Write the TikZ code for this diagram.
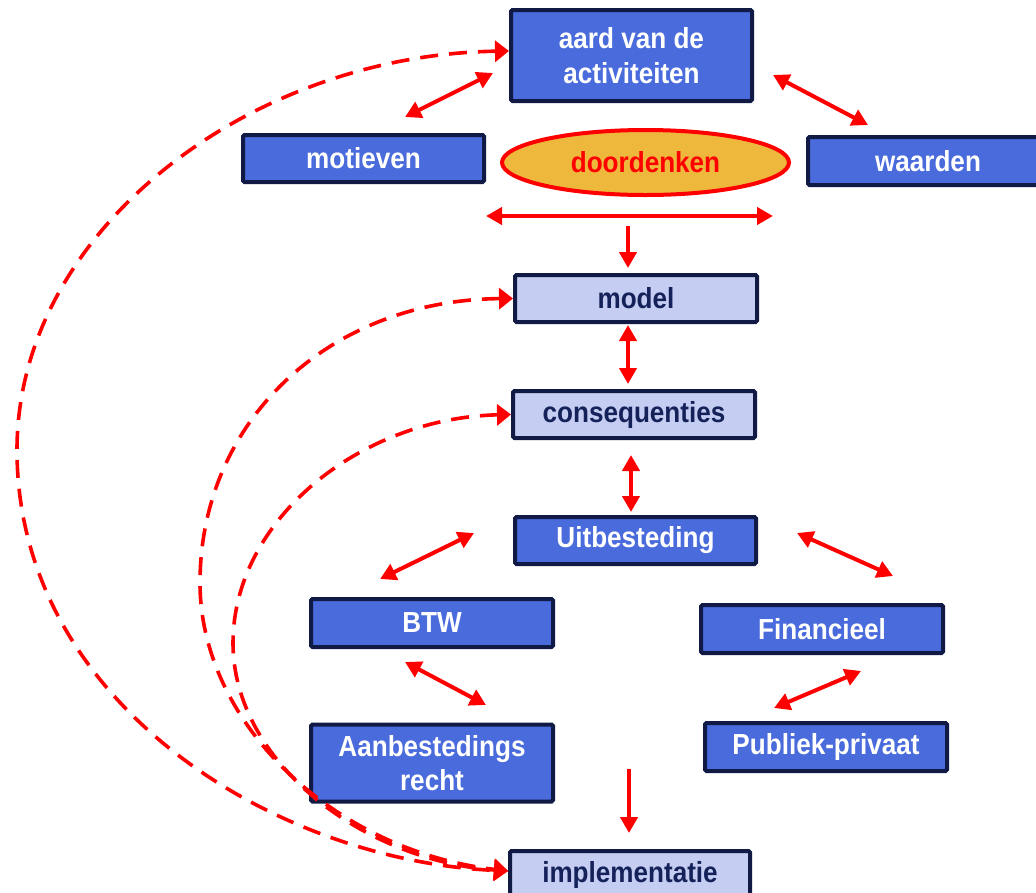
\documentclass[tikz,border=0pt]{standalone}
\usepackage{fontspec}
\setmainfont{Liberation Sans}[FakeStretch=0.9]
\usetikzlibrary{arrows.meta,shapes.geometric}
\definecolor{boxblue}{HTML}{4A6BDC}
\definecolor{lightblue}{HTML}{C5CDF2}
\definecolor{navy}{HTML}{101A45}
\definecolor{navytext}{HTML}{15225A}
\definecolor{gold}{HTML}{EDB83B}
\definecolor{linkred}{HTML}{FF0000}
\begin{document}
\begin{tikzpicture}[x=1pt,y=-1pt,
  box/.style={draw=navy, line width=4pt, rounded corners=1.5pt, minimum width=241pt,
    minimum height=47pt, inner sep=0pt, font=\bfseries\fontsize{29}{35}\selectfont, align=center},
  darkbox/.style={box, fill=boxblue, text=white},
  lightbox/.style={box, fill=lightblue, text=navytext},
  link/.style={draw=linkred, line width=4pt, >={Triangle[length=16pt,width=17pt]}},
  dashlink/.style={draw=linkred, line width=3.6pt, dash pattern=on 18pt off 11pt,
    >={Triangle[length=14pt,width=21pt]}}]
\clip (0,0) rectangle (1036,892);
\fill[white] (0,0) rectangle (1036,892);

% nodes
\node[darkbox, minimum height=91pt] (aard) at (631.5,55.5) {aard van de\\activiteiten};
\node[darkbox] (mot) at (363.5,158.5) {motieven};
\node[darkbox, minimum width=240pt, minimum height=48pt] (waa) at (928,161) {waarden};
\node[ellipse, draw=linkred, line width=4pt, fill=gold, minimum width=287pt, minimum height=65pt,
  inner sep=0pt, text=linkred, font=\bfseries\fontsize{29}{35}\selectfont] (door) at (645.5,162.5) {doordenken};
\node[lightbox, minimum width=242pt] (model) at (636,298.5) {model};
\node[lightbox, minimum width=242pt] (cons) at (634,414.5) {consequenties};
\node[darkbox] (uit) at (635.5,540.5) {Uitbesteding};
\node[darkbox, minimum width=242pt, minimum height=48pt] (btw) at (432,623) {BTW};
\node[darkbox, minimum width=242pt, minimum height=77pt] (aanb) at (432,763) {Aanbestedings\\[-1pt]recht};
\node[darkbox, minimum width=242pt, minimum height=48pt] (fin) at (822,629) {Financieel};
\node[darkbox, minimum width=242pt, minimum height=48pt] (pub) at (826,747) {Publiek-privaat};
\node[lightbox, minimum width=240pt, minimum height=48pt] (impl) at (630,875) {implementatie};

% free ends of the solid connectors
\coordinate (a1s) at (405,117); \coordinate (a1e) at (493,73);
\coordinate (a2s) at (773,75);  \coordinate (a2e) at (868,125);
\coordinate (a3s) at (486,216); \coordinate (a3e) at (773,216);
\coordinate (a4s) at (628,226); \coordinate (a4e) at (628,268);
\coordinate (a5s) at (628,325); \coordinate (a5e) at (628,384);
\coordinate (a6s) at (631,455); \coordinate (a6e) at (631,512);
\coordinate (a7s) at (474,533); \coordinate (a7e) at (380,579);
\coordinate (a8s) at (797,533); \coordinate (a8e) at (893,576);
\coordinate (a9s) at (405,662); \coordinate (a9e) at (486,705);
\coordinate (a10s) at (861,671); \coordinate (a10e) at (774,708);
\coordinate (a11s) at (629,769); \coordinate (a11e) at (629,833);

\draw[link,<->] (a1s) -- (a1e);
\draw[link,<->] (a2s) -- (a2e);
\draw[link,<->] (a3s) -- (a3e);
\draw[link,->] (a4s) -- (a4e);
\draw[link,<->] (a5s) -- (a5e);
\draw[link,<->] (a6s) -- (a6e);
\draw[link,<->] (a7s) -- (a7e);
\draw[link,<->] (a8s) -- (a8e);
\draw[link,<->] (a9s) -- (a9e);
\draw[link,<->] (a10s) -- (a10e);
\draw[link,->] (a11s) -- (a11e);

% dashed feedback curves
\draw[dashlink,<->] ([yshift=4.5pt]aard.west) .. controls (250,55) and (17,230) .. (17,450)
  .. controls (17,700) and (270,860) .. ([yshift=4pt]impl.west);
\draw[dashlink,<->] (model.west) .. controls (330,300) and (200,420) .. (200,583)
  .. controls (200,720) and (330,850) .. ([yshift=4pt]impl.west);
\draw[dashlink,<->] (cons.west) .. controls (360,418) and (233,520) .. (233,643)
  .. controls (233,760) and (360,860) .. ([yshift=4pt]impl.west);
\end{tikzpicture}
\end{document}
